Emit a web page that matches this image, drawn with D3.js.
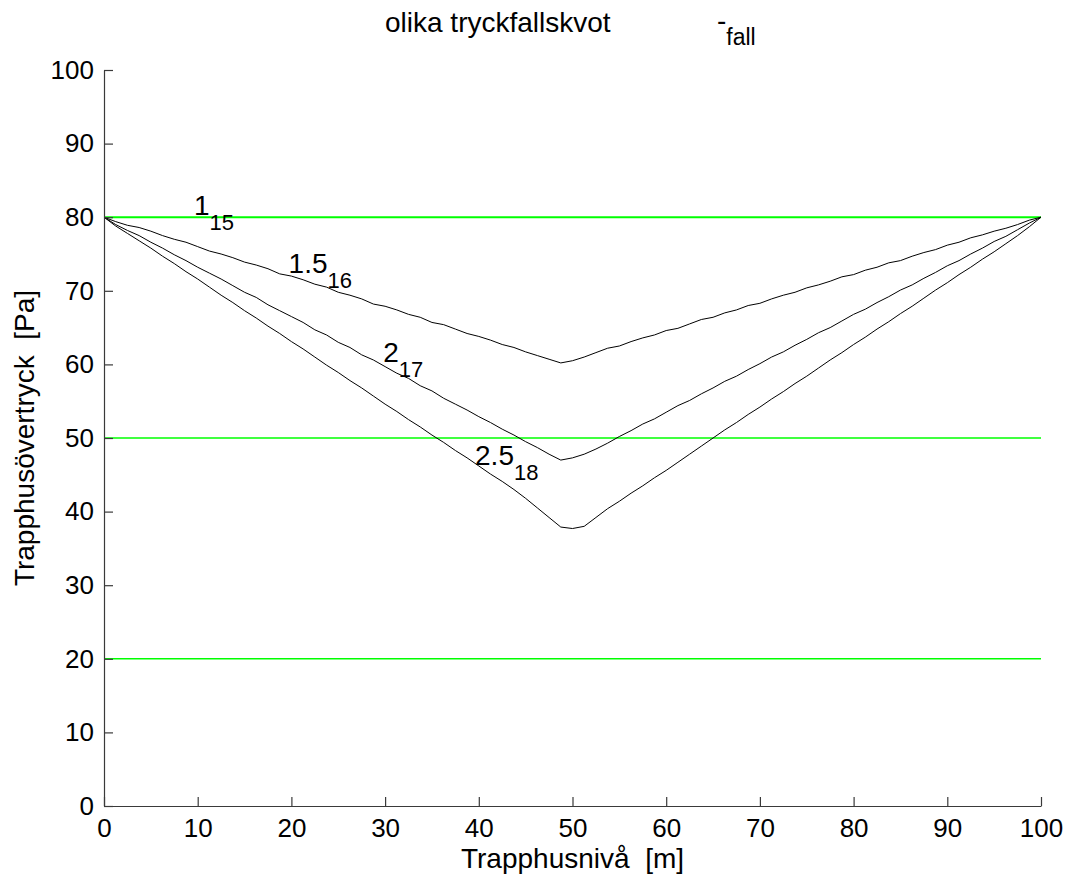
<!DOCTYPE html>
<html>
<head>
<meta charset="utf-8">
<script src="https://cdn.jsdelivr.net/npm/d3@7"></script>
<style>
  html, body { margin: 0; padding: 0; background: #fff; }
  svg { display: block; font-family: "Liberation Sans", Arial, sans-serif; }
</style>
</head>
<body>
<svg id="chart" width="1071" height="884"></svg>
<script>
// Position along the stairwell [m]
const levels = [0, 1.25, 2.5, 3.75, 5, 6.25, 7.5, 8.75, 10, 11.25, 12.5, 13.75, 15, 16.25, 17.5, 18.75, 20, 21.25, 22.5, 23.75,
  25, 26.25, 27.5, 28.75, 30, 31.25, 32.5, 33.75, 35, 36.25, 37.5, 38.75, 40, 41.25, 42.5, 43.75, 45, 46.25, 47.5, 48.75,
  50, 51.25, 52.5, 53.75, 55, 56.25, 57.5, 58.75, 60, 61.25, 62.5, 63.75, 65, 66.25, 67.5, 68.75, 70, 71.25, 72.5, 73.75,
  75, 76.25, 77.5, 78.75, 80, 81.25, 82.5, 83.75, 85, 86.25, 87.5, 88.75, 90, 91.25, 92.5, 93.75, 95, 96.25, 97.5, 98.75, 100];

// Stairwell overpressure [Pa], pressure-drop ratio 1.5
const ratio15 = [80, 79.4, 78.9, 78.6, 78.1, 77.5, 77.0, 76.6, 76.0, 75.4, 75.0, 74.5, 73.9, 73.5, 73.0, 72.3, 72.0, 71.5, 70.9, 70.5,
  69.8, 69.4, 68.9, 68.2, 67.9, 67.4, 66.8, 66.4, 65.7, 65.4, 64.8, 64.2, 63.8, 63.3, 62.7, 62.3, 61.7, 61.2, 60.7, 60.2,
  60.5, 61.0, 61.6, 62.2, 62.5, 63.1, 63.6, 64.0, 64.6, 64.9, 65.5, 66.1, 66.4, 67.0, 67.4, 68.0, 68.3, 68.9, 69.4, 69.8,
  70.4, 70.8, 71.3, 71.9, 72.2, 72.8, 73.2, 73.8, 74.1, 74.7, 75.2, 75.6, 76.2, 76.6, 77.2, 77.6, 78.1, 78.5, 79.0, 79.6, 80];

// Stairwell overpressure [Pa], pressure-drop ratio 2
const ratio20 = [80, 79.0, 78.2, 77.5, 76.6, 75.8, 74.9, 74.1, 73.2, 72.4, 71.6, 70.7, 69.8, 69.1, 68.1, 67.3, 66.5, 65.7, 64.7, 64.0,
  63.0, 62.3, 61.3, 60.6, 59.7, 58.8, 58.1, 57.1, 56.4, 55.4, 54.6, 53.8, 52.9, 52.1, 51.2, 50.4, 49.5, 48.7, 47.8, 47.0,
  47.3, 47.8, 48.5, 49.3, 50.2, 51.0, 51.9, 52.6, 53.5, 54.4, 55.1, 56.0, 56.8, 57.7, 58.4, 59.3, 60.1, 61.0, 61.7, 62.6,
  63.4, 64.3, 65.0, 65.9, 66.8, 67.5, 68.4, 69.2, 70.1, 70.8, 71.7, 72.5, 73.4, 74.1, 75.0, 75.8, 76.7, 77.4, 78.3, 79.2, 80];

// Stairwell overpressure [Pa], pressure-drop ratio 2.5
const ratio25 = [80, 78.8, 77.8, 76.8, 75.8, 74.7, 73.7, 72.6, 71.6, 70.5, 69.4, 68.4, 67.3, 66.3, 65.2, 64.2, 63.1, 62.1, 61.0, 59.9,
  58.9, 57.8, 56.8, 55.7, 54.6, 53.6, 52.5, 51.5, 50.4, 49.4, 48.3, 47.3, 46.2, 45.1, 44.1, 43.0, 41.8, 40.5, 39.2, 37.9,
  37.7, 38.0, 39.2, 40.4, 41.4, 42.5, 43.5, 44.6, 45.6, 46.7, 47.8, 48.9, 50.0, 51.1, 52.1, 53.2, 54.2, 55.3, 56.3, 57.4,
  58.4, 59.5, 60.6, 61.6, 62.7, 63.7, 64.8, 65.8, 66.9, 67.9, 69.0, 70.1, 71.1, 72.2, 73.2, 74.3, 75.3, 76.4, 77.5, 78.7, 80];

// Reference pressure levels [Pa]
const limits = [80, 50, 20];
const limitWidths = [2, 1.5, 1.5];

// Curve labels: main text, subscript, anchor in data units
const labelMain = ["1", "1.5", "2", "2.5"];
const labelSub = ["15", "16", "17", "18"];
const labelX = [9.6, 19.7, 29.8, 39.6];
const labelY = [80.3, 72.4, 60.3, 46.3];

const xTicks = [0, 10, 20, 30, 40, 50, 60, 70, 80, 90, 100];
const yTicks = [0, 10, 20, 30, 40, 50, 60, 70, 80, 90, 100];

const svg = d3.select("#chart");
const mLeft = 104, mRight = 1041, mTop = 70, mBottom = 806;

const x = d3.scaleLinear().domain([0, 100]).range([mLeft, mRight]);
const y = d3.scaleLinear().domain([0, 100]).range([mBottom, mTop]);

const tickFont = 26;
const textFont = 28;
const subFont = 22;
const axisColor = "#3a3a3a";

// Green reference levels
svg.append("g").selectAll("line")
  .data(limits)
  .join("line")
  .attr("x1", x(0)).attr("x2", x(100))
  .attr("y1", d => y(d)).attr("y2", d => y(d))
  .attr("stroke", "#00ff00")
  .attr("stroke-width", (d, i) => limitWidths[i]);

// Pressure curves
const line = d3.line().x((d, i) => x(levels[i])).y(d => y(d));
svg.append("g").selectAll("path")
  .data([ratio15, ratio20, ratio25])
  .join("path")
  .attr("d", line)
  .attr("fill", "none")
  .attr("stroke", "#000")
  .attr("stroke-width", 1)
  .attr("stroke-linejoin", "round");

// Axes (ticks pointing inward, left and bottom only)
const xAxis = d3.axisBottom(x).tickValues(xTicks).tickSizeInner(-9).tickSizeOuter(0).tickPadding(13);
const yAxis = d3.axisLeft(y).tickValues(yTicks).tickSizeInner(-9).tickSizeOuter(0).tickPadding(10);

const gx = svg.append("g").attr("transform", `translate(0,${mBottom})`).call(xAxis);
const gy = svg.append("g").attr("transform", `translate(${mLeft},0)`).call(yAxis);

[gx, gy].forEach(g => {
  g.select(".domain").attr("stroke", axisColor).attr("stroke-width", 1.2);
  g.selectAll(".tick line").attr("stroke", axisColor).attr("stroke-width", 1.2);
  g.selectAll(".tick text")
    .attr("fill", "#000")
    .attr("font-size", tickFont)
    .attr("font-family", "Liberation Sans, Arial, sans-serif");
});

// Curve labels with subscripts
const labels = svg.append("g").attr("font-size", textFont).attr("fill", "#000");
labelMain.forEach((t, i) => {
  const txt = labels.append("text")
    .attr("x", x(labelX[i]))
    .attr("y", y(labelY[i]));
  txt.append("tspan").text(t);
  txt.append("tspan").attr("dy", 15).attr("font-size", subFont).text(labelSub[i]);
});

// Title
const title = svg.append("g").attr("fill", "#000");
title.append("text")
  .attr("x", 385).attr("y", 32)
  .attr("font-size", textFont)
  .text("olika tryckfallskvot");
const t2 = title.append("text").attr("x", 717).attr("y", 30).attr("font-size", textFont);
t2.append("tspan").text("-");
t2.append("tspan").attr("dy", 15).attr("font-size", 23).text("fall");

// Axis titles
svg.append("text")
  .attr("x", (mLeft + mRight) / 2).attr("y", 868)
  .attr("text-anchor", "middle")
  .attr("font-size", textFont)
  .text("Trapphusnivå\u00A0 [m]");

svg.append("text")
  .attr("transform", `translate(34,${(mTop + mBottom) / 2}) rotate(-90)`)
  .attr("text-anchor", "middle")
  .attr("font-size", textFont)
  .text("Trapphusövertryck\u00A0 [Pa]");
</script>
</body>
</html>
